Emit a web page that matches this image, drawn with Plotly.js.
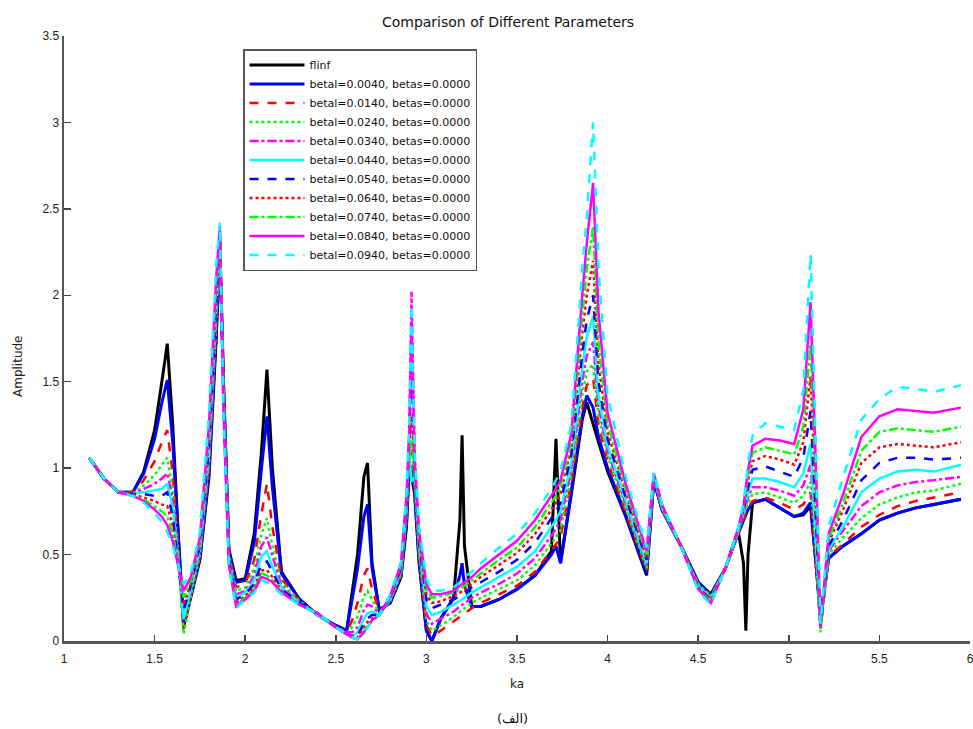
<!DOCTYPE html>
<html>
<head>
<meta charset="utf-8">
<script src="https://cdn.plot.ly/plotly-3.0.1.min.js"></script>
<style>html,body{margin:0;padding:0;background:#fff;}#chart{width:973px;height:729px;}</style>
</head>
<body>
<div id="chart"></div>
<script>
const ka = [1.14,1.22,1.30,1.38,1.44,1.50,1.54,1.57,1.60,1.63,
1.66,1.70,1.75,1.80,1.84,1.86,1.88,1.91,1.95,2.00,
2.05,2.09,2.12,2.15,2.20,2.30,2.40,2.50,2.56,2.59,
2.62,2.655,2.675,2.70,2.74,2.80,2.86,2.89,2.905,2.918,
2.935,2.96,3.00,3.03,3.08,3.15,3.185,3.197,3.21,3.25,
3.30,3.40,3.50,3.60,3.69,3.715,3.74,3.80,3.86,3.885,
3.92,3.95,4.00,4.10,4.215,4.255,4.30,4.40,4.50,4.57,
4.65,4.72,4.75,4.763,4.775,4.80,4.87,4.95,5.03,5.08,
5.12,5.15,5.175,5.22,5.30,5.40,5.50,5.60,5.70,5.80,
5.95];

const flinf = [1.06,0.94,0.86,0.86,0.98,1.22,1.50,1.72,1.25,0.62,
0.08,0.26,0.47,0.95,1.75,2.28,1.50,0.53,0.35,0.36,
0.62,1.10,1.57,1.00,0.40,0.24,0.15,0.09,0.06,0.28,
0.50,0.95,1.03,0.45,0.18,0.22,0.37,0.66,1.00,0.95,
0.85,0.45,0.06,0.00,0.13,0.25,0.70,1.19,0.55,0.20,
0.20,0.24,0.30,0.38,0.52,1.17,0.45,0.85,1.28,1.38,
1.25,1.15,0.98,0.72,0.38,0.93,0.76,0.56,0.34,0.27,
0.42,0.64,0.45,0.06,0.50,0.80,0.82,0.77,0.72,0.73,
0.78,0.45,0.15,0.48,0.55,0.62,0.70,0.74,0.77,0.79,
0.82];

const b0040 = [1.06,0.94,0.86,0.86,0.97,1.17,1.38,1.51,1.15,0.60,
0.10,0.27,0.48,0.97,1.78,2.30,1.50,0.52,0.34,0.35,
0.57,1.00,1.30,0.89,0.39,0.24,0.15,0.09,0.06,0.24,
0.42,0.72,0.79,0.42,0.18,0.22,0.38,0.68,1.02,1.00,
0.87,0.46,0.06,0.00,0.13,0.25,0.38,0.45,0.32,0.20,
0.20,0.24,0.30,0.38,0.50,0.55,0.45,0.87,1.30,1.42,
1.35,1.18,1.00,0.73,0.39,0.93,0.76,0.56,0.34,0.27,
0.42,0.62,0.70,0.73,0.76,0.80,0.82,0.77,0.72,0.74,
0.80,0.45,0.12,0.48,0.55,0.62,0.70,0.74,0.77,0.79,
0.82];

const b0140 = [1.06,0.94,0.86,0.86,0.93,1.04,1.15,1.22,0.97,0.55,
0.07,0.27,0.49,1.00,1.82,2.31,1.48,0.51,0.31,0.33,
0.47,0.74,0.91,0.66,0.36,0.23,0.15,0.08,0.05,0.12,
0.22,0.38,0.42,0.30,0.17,0.23,0.38,0.70,1.05,1.10,
0.90,0.48,0.09,0.03,0.06,0.11,0.14,0.15,0.16,0.19,
0.22,0.27,0.32,0.40,0.52,0.56,0.60,0.92,1.35,1.48,
1.52,1.25,1.04,0.75,0.41,0.94,0.76,0.56,0.33,0.26,
0.42,0.62,0.71,0.74,0.77,0.81,0.83,0.80,0.76,0.79,
0.86,0.45,0.08,0.49,0.56,0.66,0.73,0.78,0.81,0.83,
0.86];

const b0240 = [1.06,0.94,0.86,0.85,0.90,0.96,1.02,1.06,0.88,0.51,
0.04,0.26,0.50,1.03,1.85,2.32,1.46,0.50,0.29,0.31,
0.42,0.62,0.71,0.55,0.34,0.23,0.15,0.08,0.05,0.08,
0.14,0.26,0.29,0.24,0.16,0.23,0.39,0.72,1.08,1.15,
0.93,0.50,0.12,0.06,0.09,0.14,0.17,0.18,0.19,0.22,
0.25,0.30,0.35,0.44,0.56,0.60,0.64,0.96,1.42,1.56,
1.60,1.30,1.07,0.77,0.42,0.94,0.77,0.56,0.33,0.26,
0.42,0.63,0.72,0.76,0.80,0.85,0.86,0.83,0.80,0.84,
0.92,0.50,0.05,0.50,0.60,0.71,0.79,0.83,0.86,0.87,
0.91];

const b0340 = [1.06,0.94,0.86,0.85,0.88,0.91,0.94,0.97,0.82,0.49,
0.12,0.29,0.52,1.06,1.88,2.33,1.44,0.49,0.27,0.29,
0.38,0.55,0.60,0.49,0.32,0.22,0.15,0.08,0.05,0.05,
0.08,0.18,0.21,0.20,0.16,0.24,0.40,0.74,1.15,2.02,
1.10,0.52,0.16,0.10,0.13,0.17,0.20,0.21,0.22,0.25,
0.28,0.33,0.39,0.48,0.61,0.65,0.70,1.00,1.50,1.65,
1.73,1.36,1.10,0.79,0.44,0.95,0.77,0.56,0.32,0.25,
0.42,0.63,0.73,0.78,0.83,0.89,0.89,0.87,0.84,0.90,
1.02,0.55,0.07,0.52,0.64,0.78,0.86,0.90,0.92,0.93,
0.95];

const b0440 = [1.06,0.94,0.86,0.85,0.86,0.87,0.88,0.91,0.77,0.47,
0.13,0.30,0.53,1.09,1.92,2.34,1.42,0.48,0.25,0.28,
0.35,0.49,0.52,0.43,0.31,0.22,0.15,0.08,0.04,0.03,
0.05,0.13,0.16,0.17,0.15,0.24,0.41,0.76,1.10,0.92,
0.95,0.54,0.20,0.15,0.17,0.21,0.23,0.24,0.25,0.28,
0.31,0.37,0.43,0.52,0.66,0.70,0.75,1.04,1.58,1.76,
1.88,1.42,1.13,0.81,0.45,0.95,0.77,0.56,0.32,0.25,
0.42,0.63,0.74,0.80,0.86,0.94,0.94,0.92,0.89,0.97,
1.14,0.60,0.08,0.53,0.66,0.86,0.94,0.98,0.99,0.98,
1.02];

const b0540 = [1.06,0.94,0.86,0.85,0.85,0.84,0.84,0.86,0.72,0.46,
0.18,0.32,0.55,1.12,1.96,2.35,1.40,0.47,0.24,0.27,
0.33,0.45,0.46,0.40,0.30,0.22,0.16,0.08,0.04,0.03,
0.03,0.10,0.13,0.15,0.15,0.25,0.42,0.78,1.15,1.62,
1.00,0.56,0.24,0.19,0.21,0.24,0.26,0.27,0.28,0.31,
0.34,0.40,0.47,0.57,0.71,0.75,0.80,1.08,1.66,1.86,
2.00,1.50,1.17,0.83,0.47,0.96,0.78,0.56,0.31,0.24,
0.42,0.64,0.75,0.82,0.89,0.99,1.01,0.98,0.95,1.06,
1.33,0.70,0.08,0.55,0.70,0.93,1.03,1.06,1.06,1.05,
1.06];

const b0640 = [1.06,0.94,0.86,0.85,0.83,0.81,0.79,0.78,0.67,0.45,
0.21,0.33,0.57,1.16,2.00,2.36,1.38,0.46,0.22,0.26,
0.31,0.41,0.41,0.37,0.29,0.21,0.16,0.08,0.04,0.03,
0.02,0.08,0.11,0.13,0.15,0.25,0.43,0.80,1.12,1.30,
1.00,0.58,0.27,0.22,0.23,0.26,0.28,0.29,0.30,0.33,
0.37,0.44,0.51,0.62,0.76,0.80,0.85,1.12,1.78,2.00,
2.20,1.60,1.21,0.86,0.48,0.96,0.78,0.56,0.31,0.24,
0.42,0.64,0.76,0.84,0.93,1.04,1.07,1.05,1.02,1.15,
1.53,0.80,0.07,0.57,0.76,1.03,1.12,1.14,1.13,1.12,
1.15];

const b0740 = [1.06,0.94,0.86,0.84,0.82,0.78,0.75,0.72,0.62,0.44,
0.25,0.35,0.58,1.20,2.05,2.38,1.36,0.45,0.21,0.25,
0.30,0.39,0.38,0.35,0.28,0.21,0.16,0.08,0.04,0.02,
0.01,0.06,0.09,0.12,0.15,0.26,0.44,0.82,1.10,1.16,
1.00,0.60,0.30,0.25,0.26,0.28,0.30,0.31,0.32,0.35,
0.39,0.47,0.54,0.66,0.80,0.84,0.89,1.16,1.88,2.15,
2.40,1.72,1.26,0.88,0.50,0.97,0.78,0.56,0.30,0.23,
0.42,0.64,0.77,0.86,0.96,1.09,1.12,1.10,1.08,1.24,
1.72,0.90,0.07,0.59,0.80,1.10,1.21,1.23,1.22,1.21,
1.24];

const b0840 = [1.06,0.94,0.86,0.84,0.81,0.76,0.72,0.67,0.58,0.44,
0.29,0.37,0.60,1.25,2.10,2.40,1.34,0.44,0.20,0.24,
0.29,0.37,0.36,0.34,0.28,0.21,0.16,0.08,0.04,0.02,
0.01,0.05,0.08,0.12,0.15,0.26,0.45,0.84,1.20,1.85,
1.05,0.63,0.33,0.27,0.27,0.29,0.32,0.33,0.34,0.37,
0.42,0.50,0.58,0.70,0.84,0.88,0.93,1.20,2.00,2.30,
2.65,1.90,1.32,0.91,0.52,0.97,0.79,0.56,0.30,0.22,
0.42,0.65,0.78,0.88,0.99,1.13,1.17,1.16,1.14,1.34,
1.96,1.00,0.08,0.62,0.85,1.18,1.30,1.34,1.33,1.32,
1.35];

const b0940 = [1.06,0.94,0.86,0.84,0.80,0.74,0.69,0.63,0.55,0.44,
0.33,0.39,0.63,1.32,2.18,2.42,1.32,0.43,0.19,0.24,
0.28,0.35,0.34,0.32,0.27,0.21,0.16,0.08,0.04,0.02,
0.01,0.05,0.08,0.12,0.15,0.27,0.46,0.86,1.25,1.95,
1.10,0.66,0.36,0.29,0.29,0.31,0.34,0.35,0.37,0.40,
0.45,0.54,0.62,0.74,0.88,0.93,0.98,1.25,2.15,2.45,
3.00,2.15,1.42,0.95,0.54,0.98,0.79,0.56,0.29,0.21,
0.42,0.65,0.80,0.91,1.03,1.19,1.26,1.24,1.22,1.45,
2.24,1.10,0.10,0.66,0.95,1.28,1.40,1.47,1.46,1.44,
1.48];

const seriesNames = ['flinf',
 'betal=0.0040, betas=0.0000','betal=0.0140, betas=0.0000','betal=0.0240, betas=0.0000',
 'betal=0.0340, betas=0.0000','betal=0.0440, betas=0.0000','betal=0.0540, betas=0.0000',
 'betal=0.0640, betas=0.0000','betal=0.0740, betas=0.0000','betal=0.0840, betas=0.0000',
 'betal=0.0940, betas=0.0000'];
const seriesValues = [flinf,b0040,b0140,b0240,b0340,b0440,b0540,b0640,b0740,b0840,b0940];
const xTicks = [1,1.5,2,2.5,3,3.5,4,4.5,5,5.5,6];
const xTickText = ['1','1.5','2','2.5','3','3.5','4','4.5','5','5.5','6'];
const yTicks = [0,0.5,1,1.5,2,2.5,3,3.5];
const yTickText = ['0','0.5','1','1.5','2','2.5','3','3.5'];

const colors = ['#000000','#0000ff','#ff0000','#00ff00','#ff00ff','#00ffff','#0000ff','#ff0000','#00ff00','#ff00ff','#00ffff'];
const dashes = ['solid','solid','dash','dot','dashdot','solid','dash','dot','dashdot','solid','dash'];
const widths = [3,3,2.5,2.5,2.5,2.5,2.5,2.5,2.5,2.5,2.5];

const traces = seriesValues.map((v,i)=>({
  x: ka, y: v, type:'scatter', mode:'lines', name: seriesNames[i],
  line:{color:colors[i], dash:dashes[i], width:widths[i]}
}));

const wide = 'DejaVu Sans, sans-serif';
const narrow = 'Liberation Sans Narrow, Arial, Liberation Sans, sans-serif';
const layout = {
  width:973, height:729,
  margin:{l:64, r:3, t:36, b:88},
  paper_bgcolor:'#fff', plot_bgcolor:'#fff',
  font:{family:'Arial, Liberation Sans, sans-serif', size:11, color:'#222'},
  showlegend:true,
  title:{text:'Comparison of Different Parameters', font:{family:wide, size:14, color:'#111'}, x:508/973, xref:'container', y:1-22/729, yref:'container', xanchor:'center', yanchor:'middle'},
  xaxis:{range:[1,6], tickvals:xTicks, ticktext:xTickText, ticks:'inside', ticklen:6, tickwidth:1.5, tickcolor:'#444',
    ticklabeloverflow:'allow', ticklabelstandoff:5,
    showline:true, linecolor:'#555', linewidth:2.5, showgrid:false, zeroline:false,
    title:{text:'ka', font:{family:wide, size:12, color:'#222'}, standoff:15}, tickfont:{family:narrow, size:12, color:'#222'}},
  yaxis:{range:[0,3.5], tickvals:yTicks, ticktext:yTickText, ticks:'inside', ticklen:7, tickwidth:1.5, tickcolor:'#444',
    showline:true, linecolor:'#555', linewidth:2.5, showgrid:false, zeroline:false,
    tickfont:{family:narrow, size:12, color:'#222'}},
  legend:{x:(243-64)/906, y:(641-49)/605, xanchor:'left', yanchor:'top', bgcolor:'#fff', bordercolor:'#555', borderwidth:1.5,
    font:{family:wide, size:11, color:'#111'}, itemwidth:55, tracegroupgap:0},
  annotations:[
    {text:'Amplitude', xref:'paper', yref:'paper', x:(18-64)/906, y:(641-366)/605, textangle:-90, xanchor:'center', yanchor:'middle', showarrow:false,
     font:{family:wide, size:12, color:'#222'}},
    {text:'(الف)', xref:'paper', yref:'paper', x:(512-64)/906, y:(641-718)/605, xanchor:'center', yanchor:'middle', showarrow:false,
     font:{family:wide, size:13, color:'#111'}}]
};
Plotly.newPlot('chart', traces, layout, {displayModeBar:false, staticPlot:true});
</script>
</body>
</html>
